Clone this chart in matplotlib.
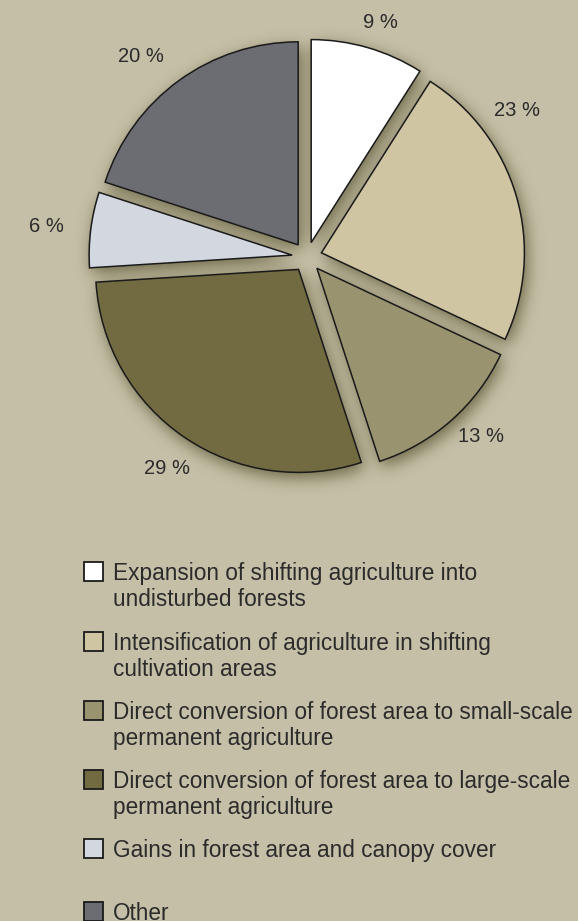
# -*- coding: utf-8 -*-
import numpy as np
import matplotlib
matplotlib.use('Agg')
import matplotlib.pyplot as plt
from matplotlib.patches import Rectangle

plt.rcParams['font.family'] = ['Liberation Sans', 'DejaVu Sans']

# data
shares = [9, 23, 13, 29, 6, 20]
colors = ['#ffffff', '#cfc5a3', '#99946f', '#726a40', '#d3d7df', '#6c6d72']
labels = ['Expansion of shifting agriculture into\nundisturbed forests',
          'Intensification of agriculture in shifting\ncultivation areas',
          'Direct conversion of forest area to small-scale\npermanent agriculture',
          'Direct conversion of forest area to large-scale\npermanent agriculture',
          'Gains in forest area and canopy cover',
          'Other']
pct_text = ['%d %%' % s for s in shares]

W, H = 578, 921
bg = '#c5bfa7'
ink = '#2b2b2b'


# blurred drop shadow built from the wedge shapes
def wedge_shadow(wedges, dx=3, dy=6, sigma=8.0):
    yy, xx = np.mgrid[0:H, 0:W]
    px = xx + 0.5 - dx
    py = (H - yy - 0.5) + dy
    mask = np.zeros((H, W))
    for w in wedges:
        x0, y0 = w.center
        r = np.hypot(px - x0, py - y0)
        ang = np.degrees(np.arctan2(py - y0, px - x0))
        t1, t2 = w.theta1, w.theta2
        a = (ang - t1) % 360
        inside = (r <= w.r) & (a <= (t2 - t1) % 360 + 1e-9)
        mask[inside] = 1.0
    ky = np.fft.fftfreq(H)[:, None]
    kx = np.fft.rfftfreq(W)[None, :]
    g = np.exp(-2 * (np.pi * sigma) ** 2 * (kx ** 2 + ky ** 2))
    return np.clip(np.fft.irfft2(np.fft.rfft2(mask) * g, s=(H, W)), 0, 1)


fig = plt.figure(figsize=(W / 100, H / 100), dpi=100, facecolor=bg)
ax = fig.add_axes([0, 0, 1, 1])
ax.set_facecolor(bg)

cx, cy, R = 307, H - 257, 203

# explode is in data units (pixels here)
wedges, _ = ax.pie(shares, colors=colors, startangle=90, counterclock=False,
                   explode=[15] * len(shares), center=(cx, cy), radius=R,
                   wedgeprops=dict(edgecolor='#1a1a1a', linewidth=1.1))
for w in wedges:
    w.set_zorder(2)

sh = wedge_shadow(wedges)
shadow = np.zeros((H, W, 4))
shadow[..., 0] = 0.34
shadow[..., 1] = 0.32
shadow[..., 2] = 0.18
shadow[..., 3] = 0.8 * sh
ax.imshow(shadow, extent=(0, W, 0, H), origin='upper', zorder=0)

# percentage labels (image pixel positions)
label_xy = [(380, 23), (517, 111), (481, 437), (167, 468), (46, 226), (141, 57)]
for t, (x, y) in zip(pct_text, label_xy):
    ax.text(x, H - y, t, ha='center', va='center', fontsize=14.5, color=ink)

# legend
box_top = [562, 632, 701, 770, 839, 902]
for lab, col, top in zip(labels, colors, box_top):
    ax.add_patch(Rectangle((84, H - top - 19), 19, 19, facecolor=col,
                           edgecolor='#1a1a1a', linewidth=1.3, zorder=3))
    for i, line in enumerate(lab.split('\n')):
        ax.text(113, H - (top + 18 + i * 26), line, ha='left', va='baseline',
                fontsize=16.3, color=ink)

ax.set_xlim(0, W)
ax.set_ylim(0, H)
ax.set_aspect('auto')
ax.axis('off')

fig.savefig('out.png', dpi=100, facecolor=bg)
